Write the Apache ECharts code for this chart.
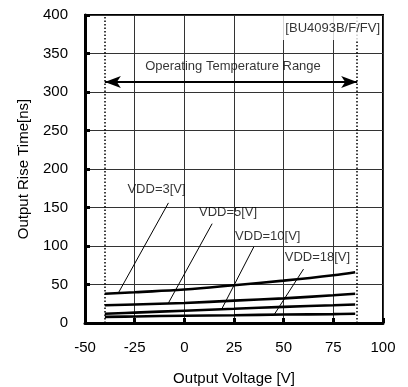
<!DOCTYPE html>
<html>
<head>
<meta charset="utf-8">
<script src="https://cdn.jsdelivr.net/npm/echarts@6/dist/echarts.min.js"></script>
<style>html,body{margin:0;padding:0;background:#fff}#c{width:408px;height:387px}</style>
</head>
<body>
<div id="c"></div>
<script>
var xTicks = [-50, -25, 0, 25, 50, 75, 100];
var yTicks = [0, 50, 100, 150, 200, 250, 300, 350, 400];
var temps = [-40, -25, 0, 25, 50, 75, 86];
var vdd3 = [38, 40, 43.5, 49, 55, 62, 66];
var vdd5 = [23, 24, 26, 29, 32, 36, 38];
var vdd10 = [12, 13.5, 16, 18.5, 21, 23, 24];
var vdd18 = [8, 8.5, 9.5, 10, 11, 11.5, 12];
var seriesNames = ['VDD=3[V]', 'VDD=5[V]', 'VDD=10[V]', 'VDD=18[V]'];
var labelPos = [[-14, 173], [22, 143], [42, 112], [67, 85]];
var leaderFrom = [[-8, 156], [14, 129], [35, 99], [60, 70]];
var leaderTo = [[-33, 40], [-8, 26], [19, 19], [45, 10]];
var rangeLimits = [-40, 87];
var rangeArrowY = 313;
var rangeText = 'Operating Temperature Range';
var rangeTextPos = [24.5, 333];
var partText = '[BU4093B/F/FV]';
var partTextPos = [99.5, 383];

var FONT = 'Liberation Sans';
var chart = echarts.init(document.getElementById('c'));
var curves = [vdd3, vdd5, vdd10, vdd18];
var series = [];
curves.forEach(function (vals, i) {
  series.push({
    type: 'line', name: seriesNames[i], smooth: 0.4, symbol: 'none',
    lineStyle: { color: '#000', width: 2.6 },
    data: temps.map(function (t, j) { return [t, vals[j]]; }),
    z: 5
  });
  series.push({
    type: 'line', symbol: 'none', lineStyle: { color: '#000', width: 1 },
    data: [leaderFrom[i], leaderTo[i]], z: 4
  });
});
series.push({
  type: 'scatter', symbolSize: 0, silent: true,
  data: seriesNames.map(function (n, i) { return { value: labelPos[i], name: n }; }),
  label: { show: true, position: 'inside', formatter: '{b}', color: '#000', fontFamily: FONT, fontSize: 13 },
  z: 6
});
series.push({
  type: 'scatter', symbolSize: 0, silent: true,
  data: [{ value: rangeTextPos, name: rangeText }],
  label: { show: true, position: 'inside', formatter: '{b}', color: '#000', fontFamily: FONT, fontSize: 13 },
  z: 6
});
series.push({
  type: 'scatter', symbolSize: 0, silent: true,
  data: [{ value: partTextPos, name: partText }],
  label: { show: true, position: 'inside', align: 'right', formatter: '{b}', color: '#000', fontFamily: FONT, fontSize: 13,
    backgroundColor: '#fff', padding: [3, 2, 8, 3] },
  z: 7
});
series.push({
  type: 'line', symbol: 'none', data: [], silent: true,
  markLine: {
    silent: true, symbol: 'none', label: { show: false },
    lineStyle: { color: '#000', type: [1.5, 2], width: 1.5 },
    data: rangeLimits.map(function (v) { return [{ coord: [v, 0] }, { coord: [v, 400] }]; })
  },
  z: 3
});
series.push({
  type: 'line', symbol: 'none', data: [], silent: true,
  markLine: {
    silent: true, symbol: ['arrow', 'arrow'], symbolSize: [9, 16], label: { show: false },
    lineStyle: { color: '#000', type: 'solid', width: 2 },
    data: [[{ coord: [rangeLimits[0], rangeArrowY] }, { coord: [rangeLimits[1], rangeArrowY] }]]
  },
  z: 4
});

chart.setOption({
  animation: false,
  backgroundColor: '#fff',
  grid: { left: 85, right: 25, top: 15, bottom: 64, containLabel: false, outerBoundsMode: 'none',
    show: true, borderColor: '#000', borderWidth: 2, backgroundColor: 'transparent' },
  xAxis: {
    type: 'value', min: xTicks[0], max: xTicks[xTicks.length - 1], interval: 25,
    name: 'Output Voltage [V]', nameLocation: 'middle', nameGap: 48,
    nameTextStyle: { color: '#000', fontFamily: FONT, fontSize: 15 },
    axisLine: { show: true, onZero: false, lineStyle: { color: '#000', width: 3 } },
    axisTick: { show: true, inside: true, length: 5, lineStyle: { color: '#000', width: 3 } },
    axisLabel: { color: '#000', fontFamily: FONT, fontSize: 15, margin: 17 },
    splitLine: { show: true, lineStyle: { color: '#333', width: 1 } }
  },
  yAxis: {
    type: 'value', min: yTicks[0], max: yTicks[yTicks.length - 1], interval: 50,
    name: 'Output Rise Time[ns]', nameLocation: 'middle', nameGap: 54,
    nameTextStyle: { color: '#000', fontFamily: FONT, fontSize: 15 },
    axisLine: { show: true, onZero: false, lineStyle: { color: '#000', width: 3 } },
    axisTick: { show: true, inside: true, length: 5, lineStyle: { color: '#000', width: 3 } },
    axisLabel: { color: '#000', fontFamily: FONT, fontSize: 15, margin: 17 },
    splitLine: { show: true, lineStyle: { color: '#333', width: 1 } }
  },
  series: series
});
</script>
</body>
</html>
